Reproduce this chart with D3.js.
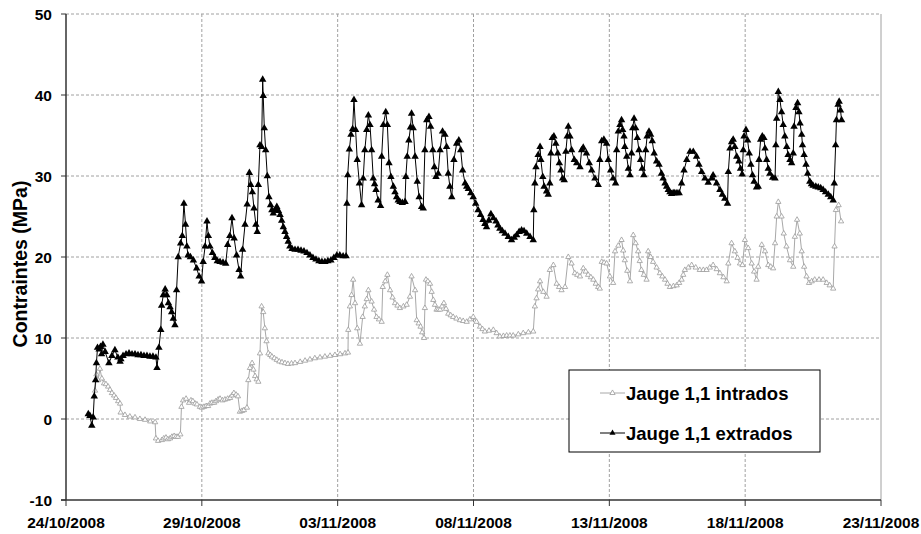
<!DOCTYPE html>
<html lang="fr">
<head>
<meta charset="utf-8">
<title>Contraintes - Jauge 1,1</title>
<script src="https://d3js.org/d3.v7.min.js"></script>
<style>
  body { margin: 0; background: #fff; }
  text { font-family: "Liberation Sans", Arial, sans-serif; font-weight: bold; fill: #000; }
  .tick-label { font-size: 15.5px; }
  .axis-title { font-size: 19.5px; }
  .legend-label { font-size: 18.5px; }
  .grid { stroke: #a0a0a0; stroke-width: 1; stroke-dasharray: 3,2; }
  .axis { stroke: #333; stroke-width: 1.5; }
</style>
</head>
<body>
<div id="chart"></div>
<script>
const w = 921, h = 534;

// date ticks (5 days apart) and stress ticks
const xTickLabels = ["24/10/2008", "29/10/2008", "03/11/2008", "08/11/2008", "13/11/2008", "18/11/2008", "23/11/2008"];
const yTicks = [-10, 0, 10, 20, 30, 40, 50];
const seriesNames = ["Jauge 1,1 intrados", "Jauge 1,1 extrados"];

// [days since 24/10/2008 00:00, MPa]
const extrados = [[0.82,0.6],[0.88,0.4],[0.95,-0.8],[1.00,0.2],[1.04,2.8],[1.09,4.8],[1.12,6.9],[1.16,8.8],[1.22,8.6],[1.27,8.9],[1.31,8.0],[1.36,9.2],[1.44,8.3],[1.58,6.9],[1.69,7.8],[1.80,8.5],[1.91,7.6],[1.99,7.1],[2.02,7.4],[2.10,7.8],[2.21,8.0],[2.32,8.1],[2.43,8.0],[2.54,8.0],[2.65,7.9],[2.76,7.9],[2.87,7.8],[2.98,7.8],[3.09,7.7],[3.20,7.7],[3.31,7.6],[3.35,6.3],[3.42,8.8],[3.49,11.0],[3.52,14.0],[3.58,15.3],[3.65,16.0],[3.71,15.3],[3.77,14.3],[3.83,13.8],[3.89,13.2],[3.95,12.4],[4.01,11.6],[4.07,15.9],[4.13,20.0],[4.22,21.7],[4.28,22.6],[4.34,26.6],[4.40,24.0],[4.45,21.3],[4.49,20.2],[4.58,20.0],[4.69,19.6],[4.81,18.6],[4.90,17.6],[4.99,17.0],[5.05,19.4],[5.12,21.3],[5.19,24.4],[5.24,22.6],[5.30,21.3],[5.39,20.5],[5.48,19.9],[5.57,19.5],[5.67,19.4],[5.78,19.3],[5.88,19.2],[5.95,21.5],[6.03,22.6],[6.11,24.8],[6.19,22.3],[6.28,20.2],[6.37,18.4],[6.43,17.6],[6.50,20.9],[6.59,24.0],[6.67,26.5],[6.75,30.4],[6.80,28.9],[6.86,28.0],[6.92,26.0],[6.99,24.0],[7.04,23.1],[7.08,28.9],[7.14,33.8],[7.20,33.6],[7.24,41.9],[7.26,39.9],[7.30,35.9],[7.35,33.2],[7.41,30.0],[7.47,27.4],[7.53,26.4],[7.58,25.8],[7.63,25.4],[7.70,25.8],[7.76,26.2],[7.82,25.7],[7.88,25.2],[7.94,24.5],[8.00,23.7],[8.06,23.1],[8.12,22.5],[8.18,21.9],[8.24,21.3],[8.32,21.0],[8.43,20.9],[8.54,20.9],[8.65,20.8],[8.76,20.7],[8.87,20.5],[8.98,20.2],[9.09,19.9],[9.20,19.7],[9.31,19.5],[9.42,19.4],[9.53,19.4],[9.64,19.5],[9.75,19.6],[9.86,19.9],[9.97,20.2],[10.08,20.2],[10.20,20.1],[10.31,20.1],[10.34,26.6],[10.37,30.1],[10.43,33.3],[10.49,35.1],[10.55,35.8],[10.60,39.4],[10.66,35.7],[10.72,32.0],[10.80,29.1],[10.88,26.4],[10.94,29.7],[11.00,33.2],[11.07,35.7],[11.13,37.5],[11.19,36.3],[11.25,33.2],[11.31,29.7],[11.36,29.0],[11.41,28.3],[11.49,27.0],[11.58,26.3],[11.62,32.4],[11.68,36.3],[11.77,37.9],[11.83,36.3],[11.89,31.6],[11.96,29.9],[12.05,28.7],[12.11,28.0],[12.17,27.4],[12.23,27.0],[12.29,26.8],[12.38,26.7],[12.48,26.8],[12.51,29.9],[12.56,32.4],[12.62,34.4],[12.68,36.0],[12.72,37.7],[12.78,35.9],[12.85,32.4],[12.93,29.3],[13.00,27.4],[13.09,26.2],[13.15,26.0],[13.21,33.2],[13.28,36.9],[13.36,37.3],[13.42,36.1],[13.50,33.2],[13.56,31.1],[13.62,29.9],[13.70,30.3],[13.77,33.2],[13.86,35.5],[13.95,35.1],[14.01,33.6],[14.07,30.3],[14.13,28.7],[14.20,27.4],[14.28,32.0],[14.38,34.0],[14.46,34.4],[14.53,33.2],[14.60,30.7],[14.69,29.1],[14.75,28.7],[14.81,28.4],[14.90,27.9],[14.99,27.4],[15.08,26.6],[15.17,25.8],[15.26,25.2],[15.35,24.6],[15.42,24.1],[15.48,23.7],[15.56,24.5],[15.64,25.3],[15.73,24.8],[15.83,24.4],[15.90,23.9],[15.97,23.5],[16.06,23.2],[16.16,22.9],[16.28,22.5],[16.40,22.1],[16.50,22.4],[16.59,22.7],[16.68,23.1],[16.77,23.3],[16.86,23.2],[16.96,22.9],[17.08,22.5],[17.20,22.1],[17.22,25.8],[17.26,29.1],[17.30,31.1],[17.38,32.6],[17.45,33.6],[17.48,32.0],[17.55,29.9],[17.60,28.7],[17.69,28.1],[17.75,27.7],[17.81,29.1],[17.85,32.8],[17.90,34.7],[17.96,34.9],[18.03,34.0],[18.10,32.8],[18.16,31.6],[18.22,30.7],[18.28,29.7],[18.34,29.5],[18.40,33.0],[18.45,34.9],[18.49,36.1],[18.55,34.9],[18.61,33.2],[18.71,32.0],[18.80,31.6],[18.92,31.1],[18.98,33.2],[19.04,33.5],[19.16,32.8],[19.26,31.6],[19.35,30.7],[19.47,29.7],[19.59,28.9],[19.65,32.0],[19.72,34.3],[19.80,34.5],[19.90,34.0],[19.96,32.0],[20.05,30.7],[20.14,29.7],[20.23,29.1],[20.27,33.2],[20.33,35.5],[20.39,36.3],[20.45,36.9],[20.49,35.7],[20.54,34.9],[20.57,33.6],[20.64,32.4],[20.70,30.9],[20.76,30.1],[20.82,32.8],[20.86,35.9],[20.91,37.1],[20.97,35.9],[21.03,34.7],[21.09,33.2],[21.15,32.0],[21.21,30.9],[21.27,30.1],[21.34,33.2],[21.39,34.9],[21.46,35.5],[21.52,35.1],[21.58,34.3],[21.65,32.8],[21.74,31.8],[21.83,31.4],[21.92,30.3],[21.98,29.7],[22.05,29.1],[22.11,28.7],[22.17,28.3],[22.23,28.0],[22.29,27.8],[22.35,27.9],[22.41,27.9],[22.49,27.9],[22.57,27.9],[22.66,29.1],[22.75,30.7],[22.85,32.0],[22.97,33.0],[23.09,33.0],[23.21,32.4],[23.30,31.4],[23.40,30.5],[23.52,29.7],[23.64,29.2],[23.77,29.7],[23.82,30.1],[23.95,29.1],[24.07,28.3],[24.16,27.7],[24.25,27.2],[24.35,26.6],[24.38,30.5],[24.44,33.4],[24.50,34.2],[24.56,34.5],[24.62,33.6],[24.69,32.4],[24.77,31.8],[24.83,30.9],[24.89,30.2],[24.93,33.2],[24.96,34.9],[25.03,35.7],[25.09,34.4],[25.15,32.8],[25.21,31.4],[25.27,30.1],[25.33,29.3],[25.42,28.6],[25.48,28.7],[25.51,32.0],[25.57,34.5],[25.63,34.9],[25.69,34.7],[25.73,33.4],[25.79,32.0],[25.85,30.9],[25.91,30.3],[26.01,29.8],[26.10,29.7],[26.13,33.8],[26.16,37.1],[26.22,40.4],[26.28,39.4],[26.34,37.9],[26.40,36.3],[26.46,34.9],[26.53,33.6],[26.58,32.6],[26.65,32.0],[26.71,31.6],[26.77,32.8],[26.80,36.1],[26.87,38.4],[26.93,39.0],[26.98,37.9],[27.02,36.5],[27.08,35.1],[27.11,33.8],[27.17,32.6],[27.24,31.4],[27.30,30.3],[27.38,29.3],[27.44,29.0],[27.50,28.8],[27.60,28.7],[27.69,28.6],[27.78,28.5],[27.87,28.3],[27.96,28.0],[28.06,27.7],[28.15,27.4],[28.24,27.0],[28.28,29.1],[28.33,33.8],[28.36,36.9],[28.42,38.8],[28.46,39.2],[28.51,38.1],[28.55,36.9]];

const intrados = [[1.07,3.5],[1.12,5.5],[1.18,4.8],[1.25,6.2],[1.32,5.0],[1.40,4.4],[1.47,4.3],[1.55,4.0],[1.62,3.6],[1.69,3.2],[1.77,2.9],[1.84,2.6],[1.92,2.2],[1.99,1.9],[2.01,0.8],[2.17,0.5],[2.35,0.3],[2.54,0.2],[2.72,0.0],[2.91,-0.1],[3.10,-0.3],[3.28,-0.4],[3.31,-2.4],[3.39,-2.7],[3.53,-2.6],[3.60,-2.4],[3.68,-2.3],[3.75,-2.5],[3.83,-2.4],[3.90,-2.2],[3.98,-2.1],[4.05,-2.2],[4.12,-2.2],[4.21,-1.9],[4.25,1.5],[4.31,2.3],[4.42,2.5],[4.53,2.0],[4.60,2.3],[4.67,2.2],[4.75,1.9],[4.82,1.8],[4.93,1.5],[5.00,1.4],[5.08,1.5],[5.16,1.6],[5.23,1.6],[5.30,1.9],[5.37,2.0],[5.45,2.0],[5.52,2.2],[5.60,2.4],[5.67,2.5],[5.76,2.3],[5.85,2.4],[5.95,2.5],[6.04,2.6],[6.11,2.9],[6.18,3.2],[6.26,3.0],[6.33,2.8],[6.40,0.9],[6.48,1.0],[6.55,1.1],[6.66,1.4],[6.71,4.8],[6.77,6.3],[6.85,6.9],[6.90,6.1],[6.96,5.3],[7.02,4.9],[7.08,4.6],[7.14,8.1],[7.20,13.9],[7.26,13.2],[7.32,11.2],[7.38,9.6],[7.45,8.1],[7.52,7.9],[7.58,7.7],[7.67,7.5],[7.76,7.3],[7.85,7.1],[7.95,7.0],[8.06,6.9],[8.17,6.8],[8.30,6.85],[8.43,6.9],[8.62,7.05],[8.80,7.2],[8.98,7.35],[9.16,7.5],[9.35,7.6],[9.53,7.7],[9.72,7.8],[9.90,7.9],[10.09,8.0],[10.27,8.1],[10.38,8.2],[10.39,11.0],[10.45,13.9],[10.51,15.3],[10.57,17.2],[10.64,14.3],[10.72,11.2],[10.82,9.3],[10.92,12.6],[11.00,13.9],[11.07,14.8],[11.13,15.9],[11.25,14.5],[11.34,13.5],[11.43,12.6],[11.52,12.3],[11.62,12.0],[11.66,16.3],[11.75,17.0],[11.83,17.8],[11.93,15.9],[12.02,15.0],[12.11,14.3],[12.20,14.0],[12.29,13.7],[12.42,13.9],[12.54,14.1],[12.66,15.1],[12.72,17.6],[12.85,15.9],[12.91,12.2],[12.98,11.8],[13.05,11.4],[13.11,10.7],[13.18,10.0],[13.21,13.7],[13.25,17.2],[13.32,17.0],[13.40,16.7],[13.46,15.7],[13.52,14.7],[13.58,14.1],[13.64,13.5],[13.70,13.5],[13.77,13.5],[13.84,13.9],[13.91,14.3],[13.99,13.6],[14.07,13.0],[14.16,12.8],[14.25,12.6],[14.37,12.4],[14.50,12.2],[14.62,12.1],[14.75,12.0],[14.87,12.3],[14.99,12.6],[15.11,12.0],[15.24,11.4],[15.33,11.1],[15.42,10.8],[15.57,10.9],[15.73,11.0],[15.85,10.6],[15.97,10.2],[16.10,10.25],[16.22,10.3],[16.34,10.3],[16.46,10.3],[16.65,10.45],[16.83,10.6],[17.02,10.7],[17.20,10.8],[17.26,13.9],[17.32,14.9],[17.38,16.0],[17.45,17.0],[17.57,15.7],[17.69,15.1],[17.81,18.4],[17.94,19.0],[18.06,16.7],[18.15,16.3],[18.24,15.9],[18.37,16.3],[18.49,20.0],[18.61,19.2],[18.73,18.0],[18.82,17.8],[18.92,17.6],[19.04,18.6],[19.13,18.2],[19.22,17.8],[19.32,17.5],[19.41,17.2],[19.50,16.7],[19.59,16.3],[19.65,16.1],[19.72,19.4],[19.81,19.3],[19.90,19.2],[20.02,17.6],[20.14,16.8],[20.21,20.7],[20.33,21.4],[20.45,22.1],[20.51,20.8],[20.57,19.6],[20.66,18.3],[20.76,17.0],[20.88,22.7],[20.97,21.7],[21.06,20.7],[21.12,19.5],[21.18,18.4],[21.27,17.8],[21.37,17.2],[21.43,20.7],[21.52,20.0],[21.61,19.4],[21.74,18.7],[21.86,18.0],[21.95,17.6],[22.05,17.2],[22.14,16.7],[22.23,16.3],[22.36,16.4],[22.48,16.5],[22.57,16.8],[22.66,17.2],[22.72,17.8],[22.78,18.4],[22.91,18.7],[23.03,19.0],[23.18,18.7],[23.33,18.4],[23.46,18.4],[23.58,18.4],[23.70,18.7],[23.82,19.0],[23.95,18.5],[24.07,18.0],[24.20,17.5],[24.32,17.0],[24.38,19.2],[24.50,21.7],[24.62,20.7],[24.72,19.9],[24.81,19.2],[24.90,19.0],[24.99,22.1],[25.11,21.1],[25.24,19.2],[25.33,18.2],[25.42,17.2],[25.48,18.8],[25.61,21.5],[25.73,20.7],[25.85,19.0],[25.94,18.8],[26.03,18.6],[26.10,21.7],[26.16,25.0],[26.22,26.8],[26.34,25.0],[26.42,22.9],[26.52,21.3],[26.65,19.6],[26.77,18.8],[26.83,22.5],[26.91,24.6],[27.01,22.9],[27.08,20.7],[27.17,18.8],[27.26,17.6],[27.35,16.8],[27.45,17.0],[27.56,17.2],[27.72,17.2],[27.87,17.2],[28.00,16.8],[28.11,16.5],[28.24,16.1],[28.29,21.3],[28.34,25.8],[28.44,26.4],[28.53,24.4]];

const margin = {top: 14, right: 40, bottom: 34, left: 66};
const parseDay = d3.utcParse("%d/%m/%Y");
const tickDates = xTickLabels.map(parseDay);
const t0 = tickDates[0].getTime();
const toDate = d => new Date(t0 + d * 86400000);

const x = d3.scaleUtc()
  .domain([tickDates[0], tickDates[tickDates.length - 1]])
  .range([margin.left, w - margin.right]);
const y = d3.scaleLinear()
  .domain([-10, 50])
  .range([h - margin.bottom, margin.top]);

const svg = d3.select("#chart").append("svg")
  .attr("width", w)
  .attr("height", h);

// gridlines
svg.selectAll(".hgrid")
  .data(yTicks.filter(v => v > -10))
  .enter().append("line")
  .attr("class", "grid")
  .attr("x1", x.range()[0]).attr("x2", x.range()[1])
  .attr("y1", d => y(d)).attr("y2", d => y(d));

svg.selectAll(".vgrid")
  .data(tickDates.slice(1, -1))
  .enter().append("line")
  .attr("class", "grid")
  .attr("x1", d => x(d)).attr("x2", d => x(d))
  .attr("y1", y.range()[1]).attr("y2", y.range()[0]);

// right border of plot area
svg.append("line")
  .attr("x1", x.range()[1]).attr("x2", x.range()[1])
  .attr("y1", y.range()[1]).attr("y2", y.range()[0])
  .attr("stroke", "#a0a0a0");

// axes
svg.append("line").attr("class", "axis")
  .attr("x1", x.range()[0]).attr("x2", x.range()[0])
  .attr("y1", y.range()[1]).attr("y2", y.range()[0]);
svg.append("line").attr("class", "axis")
  .attr("x1", x.range()[0] - 5).attr("x2", x.range()[1])
  .attr("y1", y(-10)).attr("y2", y(-10));

svg.selectAll(".ytick")
  .data(yTicks)
  .enter().append("line")
  .attr("class", "axis")
  .style("stroke-width", 1)
  .attr("x1", x.range()[0] - 5).attr("x2", x.range()[0])
  .attr("y1", d => y(d)).attr("y2", d => y(d));

svg.selectAll(".ylab")
  .data(yTicks)
  .enter().append("text")
  .attr("class", "tick-label")
  .attr("x", x.range()[0] - 14)
  .attr("y", d => y(d) + 5.5)
  .attr("text-anchor", "end")
  .text(d => d);

svg.selectAll(".xtick")
  .data(tickDates)
  .enter().append("line")
  .attr("class", "axis")
  .style("stroke-width", 1)
  .attr("x1", d => x(d)).attr("x2", d => x(d))
  .attr("y1", y(-10)).attr("y2", y(-10) + 6);

svg.selectAll(".xlab")
  .data(tickDates)
  .enter().append("text")
  .attr("class", "tick-label")
  .attr("x", d => x(d))
  .attr("y", y(-10) + 28)
  .attr("text-anchor", "middle")
  .text((d, i) => xTickLabels[i]);

svg.append("text")
  .attr("class", "axis-title")
  .attr("transform", "translate(27," + 264 + ") rotate(-90)")
  .attr("text-anchor", "middle")
  .text("Contraintes (MPa)");

// series
const line = d3.line()
  .x(d => x(toDate(d[0])))
  .y(d => y(d[1]));

const tri = d3.symbol().type(d3.symbolTriangle);

svg.append("path")
  .datum(intrados)
  .attr("d", line)
  .attr("fill", "none")
  .attr("stroke", "#a8a8a8")
  .attr("stroke-width", 1);

svg.selectAll(".int-pt")
  .data(intrados)
  .enter().append("path")
  .attr("d", tri.size(12))
  .attr("transform", d => "translate(" + x(toDate(d[0])) + "," + y(d[1]) + ")")
  .attr("fill", "#fff")
  .attr("stroke", "#9a9a9a")
  .attr("stroke-width", 0.8);

svg.append("path")
  .datum(extrados)
  .attr("d", line)
  .attr("fill", "none")
  .attr("stroke", "#000")
  .attr("stroke-width", 1);

svg.selectAll(".ext-pt")
  .data(extrados)
  .enter().append("path")
  .attr("d", tri.size(24))
  .attr("transform", d => "translate(" + x(toDate(d[0])) + "," + y(d[1]) + ")")
  .attr("fill", "#000");

// legend
const lg = svg.append("g").attr("transform", "translate(569,370)");
lg.append("rect")
  .attr("width", 251).attr("height", 82)
  .attr("fill", "#fff")
  .attr("stroke", "#000")
  .attr("stroke-width", 1);

const rows = [
  {name: seriesNames[0], y: 23, stroke: "#a8a8a8", fill: "#fff", mstroke: "#9a9a9a", size: 12},
  {name: seriesNames[1], y: 63, stroke: "#000", fill: "#000", mstroke: "none", size: 16}
];
rows.forEach(r => {
  lg.append("line")
    .attr("x1", 31).attr("x2", 56)
    .attr("y1", r.y).attr("y2", r.y)
    .attr("stroke", r.stroke);
  lg.append("path")
    .attr("d", d3.symbol().type(d3.symbolTriangle).size(r.size)())
    .attr("transform", "translate(43.5," + r.y + ")")
    .attr("fill", r.fill)
    .attr("stroke", r.mstroke)
    .attr("stroke-width", 0.8);
  lg.append("text")
    .attr("class", "legend-label")
    .attr("x", 57)
    .attr("y", r.y + 6.5)
    .text(r.name);
});
</script>
</body>
</html>
